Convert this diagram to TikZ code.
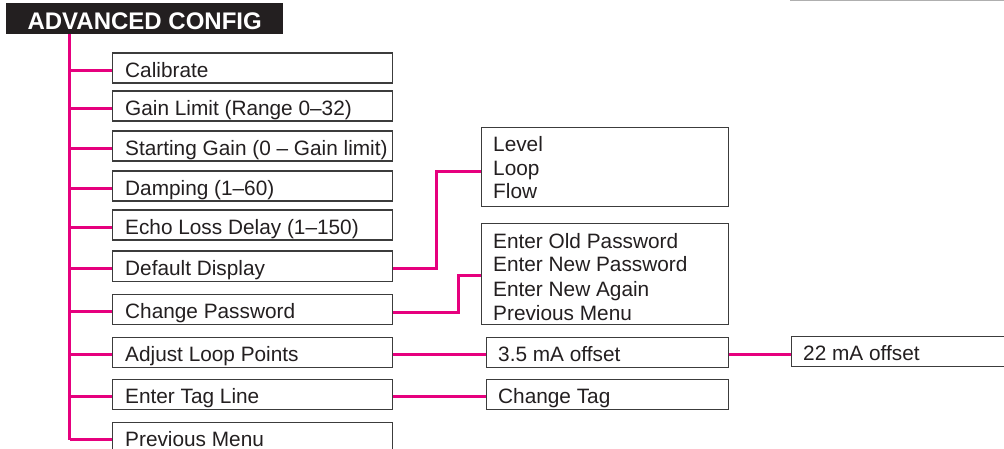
\documentclass[tikz,border=0pt]{standalone}
\usepackage{fontspec}
\setmainfont{Liberation Sans}
\usetikzlibrary{calc}
\definecolor{magenta}{RGB}{230,0,126}
\definecolor{boxline}{RGB}{60,60,60}
\definecolor{ink}{RGB}{35,31,32}
\definecolor{rule}{RGB}{175,175,175}
\tikzset{
  menubox/.style={draw=boxline, line width=1.3pt, rectangle, inner sep=0pt, anchor=north west, minimum height=30pt},
  lbl/.style={anchor=base west, inner sep=0pt, text=ink, font=\fontsize{20.8}{24}\selectfont},
  link/.style={draw=magenta, line width=2.7pt},
  header/.style={fill=ink, rectangle, inner sep=0pt, anchor=north west, minimum width=277pt, minimum height=31pt,
    text=white, font=\bfseries\fontsize{24}{26}\selectfont, text height=21pt, text depth=0pt},
}
\begin{document}
\begin{tikzpicture}[x=1pt, y=-1pt]
\useasboundingbox (0,0) rectangle (1004,449);
\clip (0,0) rectangle (1004,449);
\fill[white] (0,0) rectangle (1004,449);
% top rule
\draw[rule, line width=1.5pt] (790,0.75) -- (1004,0.75);
% header
\node[header] (hdr) at (6,3.3) {ADVANCED CONFIG};
% left column boxes
\node[menubox, minimum width=280pt] (b1) at (112,52.5) {};
\node[menubox, minimum width=280pt] (b2) at (112,90.5) {};
\node[menubox, minimum width=280pt] (b3) at (112,130.5) {};
\node[menubox, minimum width=280pt] (b4) at (112,170.5) {};
\node[menubox, minimum width=280pt] (b5) at (112,209.5) {};
\node[menubox, minimum width=280pt] (b6) at (112,250.5) {};
\node[menubox, minimum width=280pt] (b7) at (112,293.5) {};
\node[menubox, minimum width=280pt] (b8) at (112,336.5) {};
\node[menubox, minimum width=280pt] (b9) at (112,378.5) {};
\node[menubox, minimum width=280pt] (b10) at (112,421.5) {};
\node[lbl] (t1) at ($(b1.north west)+(13,25)$) {Calibrate};
\node[lbl] (t2) at ($(b2.north west)+(13,25)$) {Gain Limit (Range 0–32)};
\node[lbl] (t3) at ($(b3.north west)+(13,25)$) {Starting Gain (0 – Gain limit)};
\node[lbl] (t4) at ($(b4.north west)+(13,25)$) {Damping (1–60)};
\node[lbl] (t5) at ($(b5.north west)+(13,25)$) {Echo Loss Delay (1–150)};
\node[lbl] (t6) at ($(b6.north west)+(13,25)$) {Default Display};
\node[lbl] (t7) at ($(b7.north west)+(13,25)$) {Change Password};
\node[lbl] (t8) at ($(b8.north west)+(13,25)$) {Adjust Loop Points};
\node[lbl] (t9) at ($(b9.north west)+(13,25)$) {Enter Tag Line};
\node[lbl] (t10) at ($(b10.north west)+(13,25)$) {Previous Menu};
% right boxes
\node[menubox, minimum width=247pt, minimum height=79pt] (disp) at (481,127) {};
\node[lbl] (d1) at ($(disp.north west)+(12,25)$) {Level};
\node[lbl] (d2) at ($(disp.north west)+(12,48.5)$) {Loop};
\node[lbl] (d3) at ($(disp.north west)+(12,72)$) {Flow};
\node[menubox, minimum width=247pt, minimum height=101pt] (pw) at (481,223) {};
\node[lbl] (p1) at ($(pw.north west)+(12,25)$) {Enter Old Password};
\node[lbl] (p2) at ($(pw.north west)+(12,49)$) {Enter New Password};
\node[lbl] (p3) at ($(pw.north west)+(12,73)$) {Enter New Again};
\node[lbl] (p4) at ($(pw.north west)+(12,97)$) {Previous Menu};
\node[menubox, minimum width=242pt] (lo) at (486,336.5) {};
\node[lbl] (lot) at ($(lo.north west)+(12,25)$) {3.5 mA offset};
\node[menubox, minimum width=260pt] (hi) at (791,335.5) {};
\node[lbl] (hit) at ($(hi.north west)+(12,25)$) {22 mA offset};
\node[menubox, minimum width=242pt] (tag) at (486,378.5) {};
\node[lbl] (tagt) at ($(tag.north west)+(12,25)$) {Change Tag};
% trunk
\coordinate (trtop) at (69.5,34.3);
\draw[link] (trtop) -- ($(trtop |- b10.west)+(0,2.5)$);
\foreach \b in {b1,b2,b3,b4,b5,b6,b7,b8,b9,b10}{
  \draw[link] ($(trtop |- \b.west)+(0,2.5)$) -- ($(\b.west)+(0,2.5)$);
}
% sub connectors
\draw[link] ($(b6.east)+(0,2.5)$) -- ++(43,0) |- ($(disp.west)+(0,4.5)$);
\draw[link] ($(b7.east)+(0,3)$) -- ++(65,0) |- ($(pw.west)+(0,1.5)$);
\draw[link] ($(b8.east)+(0,2.5)$) -- ($(b8.east -| lo.west)+(0,2.5)$);
\draw[link] ($(lo.east)+(0,2.5)$) -- ($(lo.east -| hi.west)+(0,2.5)$);
\draw[link] ($(b9.east)+(0,2.5)$) -- ($(b9.east -| tag.west)+(0,2.5)$);
\end{tikzpicture}
\end{document}
